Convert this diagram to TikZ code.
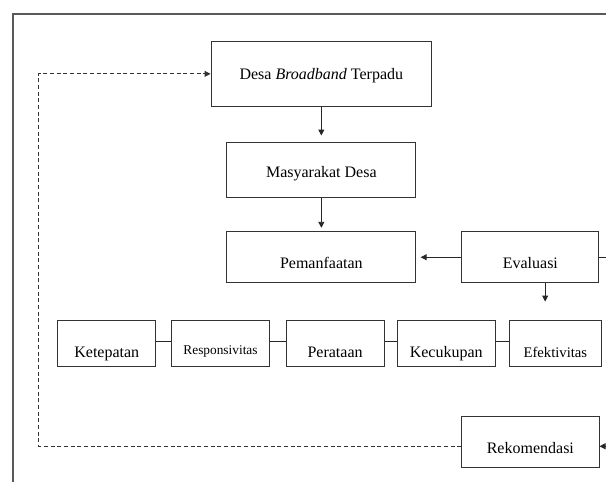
\documentclass[tikz,border=0pt]{standalone}
\usepackage{fontspec}
\setmainfont{Liberation Serif}
\usepackage{tikz}
\usetikzlibrary{positioning, arrows.meta}
\tikzset{
>={Triangle[length=4.5pt,width=4.5pt]}, % filled triangular heads
kotak/.style={draw=black!80, line width=0.7pt, inner sep=0pt, font=\fontsize{12}{14}\selectfont}, % every box
panah/.style={->, draw=black!85, line width=0.7pt}, % solid arrows
balikan/.style={->, draw=black!80, line width=0.7pt, dash pattern=on 3pt off 2pt}, % feedback line
bingkai/.style={draw=black!65, line width=1pt}, % outer frame
}

\begin{document}
\begin{tikzpicture}
                \useasboundingbox (0,0) rectangle (454.5pt,-361.5pt);
                \draw[bingkai] (9.75pt,-361.5pt) -- (9.75pt,-10.5pt) -- (454.5pt,-10.5pt);

                \node[kotak, minimum width=165.5pt, text height=28pt, text depth=20.2pt] (desa) at (241pt,-55.4pt) {Desa \textit{Broadband} Terpadu};
                \node[kotak, below=26.8pt of desa, minimum width=141.8pt, text height=26.25pt, text depth=15pt] (masy) {Masyarakat Desa};
                \node[kotak, below=24.75pt of masy, minimum width=141.9pt, text height=27.75pt, text depth=10.7pt] (pem) {Pemanfaatan};
                \node[kotak, right=33.75pt of pem, minimum width=102.75pt, text height=27.75pt, text depth=10.7pt] (eval) {Evaluasi};
                \node[kotak, below=99.5pt of eval, minimum width=103pt, text height=28pt, text depth=10.1pt] (rek) {Rekomendasi};

                \node[kotak, minimum width=73.7pt, text height=27.45pt, text depth=6.5pt] (ket) at (80.1pt,-257.5pt) {Ketepatan};
                \node[kotak, right=11pt of ket, minimum width=73.5pt, text height=25.7pt, text depth=8.25pt, font=\fontsize{10}{12}\selectfont] (resp) {Responsivitas};
                \node[kotak, right=11.7pt of resp, minimum width=73.5pt, text height=27.45pt, text depth=6.5pt] (rata) {Perataan};
                \node[kotak, right=9pt of rata, minimum width=73.8pt, text height=27.45pt, text depth=6.5pt] (cukup) {Kecukupan};
                \node[kotak, right=9.75pt of cukup, minimum width=69pt, text height=27.75pt, text depth=6.2pt, font=\fontsize{11}{13}\selectfont] (efek) {Efektivitas};

                \coordinate (kanan) at (454.5pt,0);
                \coordinate (balik) at ([xshift=-129pt]desa.west);
                \coordinate (evalbawah) at ([xshift=11.1pt,yshift=-13.7pt]eval.south);

                \draw[panah, shorten >=5pt] (desa) -- (masy);
                \draw[panah, shorten >=2.5pt] (masy) -- (pem);
                \draw[panah, shorten >=3.2pt] (eval) -- (pem);
                \draw[panah] ([xshift=11.1pt]eval.south) -- (evalbawah);
                \draw[panah, -] (eval.east) -- (eval.east -| kanan);
                \draw[panah] ([yshift=-3.3pt]rek.east -| kanan) -- ([yshift=-3.3pt]rek.east);
                \draw[balikan] ([yshift=-3.3pt]rek.west) -| (balik) -- (desa.west);

                \draw[panah, -]
                    ([yshift=1.2pt]ket.east) -- ([yshift=1.2pt]resp.west)
                    ([yshift=1.2pt]resp.east) -- ([yshift=1.2pt]rata.west)
                    ([yshift=1.2pt]rata.east) -- ([yshift=1.2pt]cukup.west)
                    ([yshift=1.2pt]cukup.east) -- ([yshift=1.2pt]efek.west)
                    ;
                \end{tikzpicture}
\end{document}
